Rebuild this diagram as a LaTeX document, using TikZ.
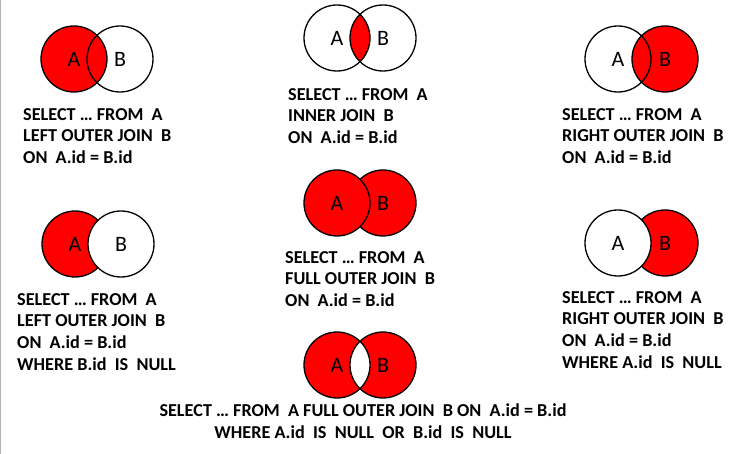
\documentclass[tikz,border=0pt]{standalone}
\usepackage{fontspec}
\setmainfont{Carlito}
\usepackage{tikz}

\definecolor{joinred}{RGB}{255,0,0}

\begin{document}
\begin{tikzpicture}[
            x = 1pt, y = -1pt, % one unit per pixel, y down
            ring/.style = {draw=black, line width=1.3pt}, % circle outline
            setname/.style = {font=\fontsize{22}{26}\selectfont, inner sep=0pt},
            query/.style = {font=\fontsize{18.2}{21.8}\selectfont\bfseries, align=left, anchor=north west, inner sep=0pt}
        ]
\useasboundingbox (0,0) rectangle (732,454);
\draw[gray!60, line width=1pt] (0.5,0) -- (0.5,454);

% left outer join
\coordinate (lojA) at (74,59);
\coordinate (lojB) at (120,59);
\fill[joinred] (lojA) circle (33);
\draw[ring] (lojA) circle (33);
\draw[ring] (lojB) circle (33);
\node[setname] (lojAl) at (lojA) {A};
\node[setname] (lojBl) at (lojB) {B};
\node[query] (lojq) at (23,108) {SELECT … FROM\ \ A\\LEFT OUTER JOIN\ \ B\\ON\ \ A.id = B.id};

% inner join
\coordinate (ijA) at (337,38);
\coordinate (ijB) at (383,38);
\begin{scope}
\clip (ijA) circle (33);
\fill[joinred] (ijB) circle (33);
\end{scope}
\draw[ring] (ijA) circle (33);
\draw[ring] (ijB) circle (33);
\node[setname] (ijAl) at (ijA) {A};
\node[setname] (ijBl) at (ijB) {B};
\node[query] (ijq) at (288,88) {SELECT … FROM\ \ A\\INNER JOIN\ \ B\\ON\ \ A.id = B.id};

% right outer join
\coordinate (rojA) at (618,59);
\coordinate (rojB) at (665,59);
\fill[joinred] (rojB) circle (33);
\draw[ring] (rojA) circle (33);
\draw[ring] (rojB) circle (33);
\node[setname] (rojAl) at (rojA) {A};
\node[setname] (rojBl) at (rojB) {B};
\node[query] (rojq) at (562,108) {SELECT … FROM\ \ A\\RIGHT OUTER JOIN\ \ B\\ON\ \ A.id = B.id};

% left outer join, only A
\coordinate (lonA) at (75,244);
\coordinate (lonB) at (121,244);
\fill[joinred] (lonA) circle (33);
\draw[ring] (lonA) circle (33);
\draw[ring, fill=white] (lonB) circle (33);
\node[setname] (lonAl) at (lonA) {A};
\node[setname] (lonBl) at (lonB) {B};
\node[query] (lonq) at (17,293) {SELECT … FROM\ \ A\\LEFT OUTER JOIN\ \ B\\ON\ \ A.id = B.id\\WHERE B.id\ \ IS\ \ NULL};

% full outer join
\coordinate (fojA) at (337,203);
\coordinate (fojB) at (383,203);
\draw[ring, fill=joinred] (fojB) circle (33);
\draw[ring, fill=joinred] (fojA) circle (33);
\node[setname] (fojAl) at (fojA) {A};
\node[setname] (fojBl) at (fojB) {B};
\node[query] (fojq) at (285,251) {SELECT … FROM\ \ A\\FULL OUTER JOIN\ \ B\\ON\ \ A.id = B.id};

% right outer join, only B
\coordinate (ronA) at (618,243);
\coordinate (ronB) at (665,243);
\fill[joinred] (ronB) circle (33);
\draw[ring] (ronB) circle (33);
\draw[ring, fill=white] (ronA) circle (33);
\node[setname] (ronAl) at (ronA) {A};
\node[setname] (ronBl) at (ronB) {B};
\node[query] (ronq) at (562,291) {SELECT … FROM\ \ A\\RIGHT OUTER JOIN\ \ B\\ON\ \ A.id = B.id\\WHERE A.id\ \ IS\ \ NULL};

% full outer join without the overlap
\coordinate (fonA) at (337,365);
\coordinate (fonB) at (383,365);
\fill[joinred] (fonA) circle (33);
\fill[joinred] (fonB) circle (33);
\begin{scope}
\clip (fonA) circle (33);
\fill[white] (fonB) circle (33);
\end{scope}
\draw[ring] (fonA) circle (33);
\draw[ring] (fonB) circle (33);
\node[setname] (fonAl) at (fonA) {A};
\node[setname] (fonBl) at (fonB) {B};
\node[query, align=center, anchor=north] (fonq) at (363,404) {SELECT … FROM\ \ A FULL OUTER JOIN\ \ B ON\ \ A.id = B.id\\WHERE A.id\ \ IS\ \ NULL\ \ OR\ \ B.id\ \ IS\ \ NULL};
\end{tikzpicture}
\end{document}
